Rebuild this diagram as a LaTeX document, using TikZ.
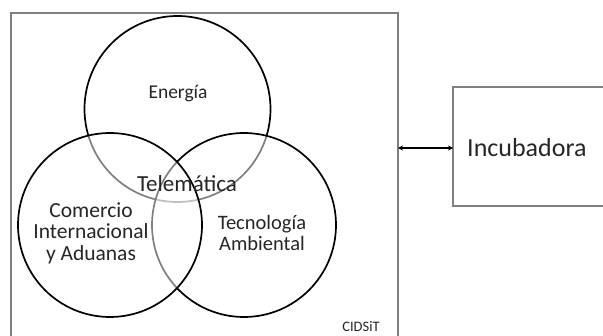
\documentclass[tikz,border=0pt]{standalone}
\usepackage{fontspec}
\setmainfont{Carlito}
\usetikzlibrary{arrows.meta}
\begin{document}
\begin{tikzpicture}[x=1pt,y=-1pt,
  frame/.style={draw=black!50,line width=1.3pt},
  area/.style={draw=black,line width=1.7pt,fill=white,fill opacity=0.5},
  lbl/.style={inner sep=0pt,align=center,text=black!85},
  link/.style={line width=1.2pt,{Stealth[length=5pt,width=5pt]}-{Stealth[length=5pt,width=5pt]}}]
  \useasboundingbox (0,0) rectangle (603,336);
  % CIDSiT frame, open at the bottom
  \draw[frame] (11,340) -- (11,13) -- (398,13) -- (398,340);
  % incubator box, running past the right edge
  \draw[frame] (606,87) -- (453,87) -- (453,206) -- (606,206);
  \coordinate (inc) at (453,148);
  \coordinate (cid) at (398,148);
  % three overlapping areas
  \draw[area] (177.5,109) circle (93);
  \draw[area] (244,225) circle (92);
  \draw[area] (110,225) circle (92);
  \node[circle,minimum size=186pt,inner sep=0pt] (ene) at (177.5,109) {};
  \node[circle,minimum size=184pt,inner sep=0pt] (tec) at (244,225) {};
  \node[circle,minimum size=184pt,inner sep=0pt] (com) at (110,225) {};
  % labels
  \node[lbl,font=\fontsize{19.5}{22}\selectfont] (tene) at (178,94) {Energía};
  \node[lbl,font=\fontsize{23}{26}\selectfont] (ttel) at (187,184) {Telemática};
  \node[lbl,font=\fontsize{21.5}{21.5}\selectfont] (tcom) at (91,233) {Comercio\\Internacional\\y Aduanas};
  \node[lbl,font=\fontsize{20.5}{21}\selectfont] (ttec) at (262,233) {Tecnología\\Ambiental};
  \node[lbl,font=\fontsize{14.5}{16}\selectfont] (tcid) at (361,327) {CIDSiT};
  \node[lbl,font=\fontsize{26}{30}\selectfont,anchor=west] (tinc) at (467,148) {Incubadora};
  % link between the frame and the incubator
  \draw[link] (cid) -- (inc);
\end{tikzpicture}
\end{document}
